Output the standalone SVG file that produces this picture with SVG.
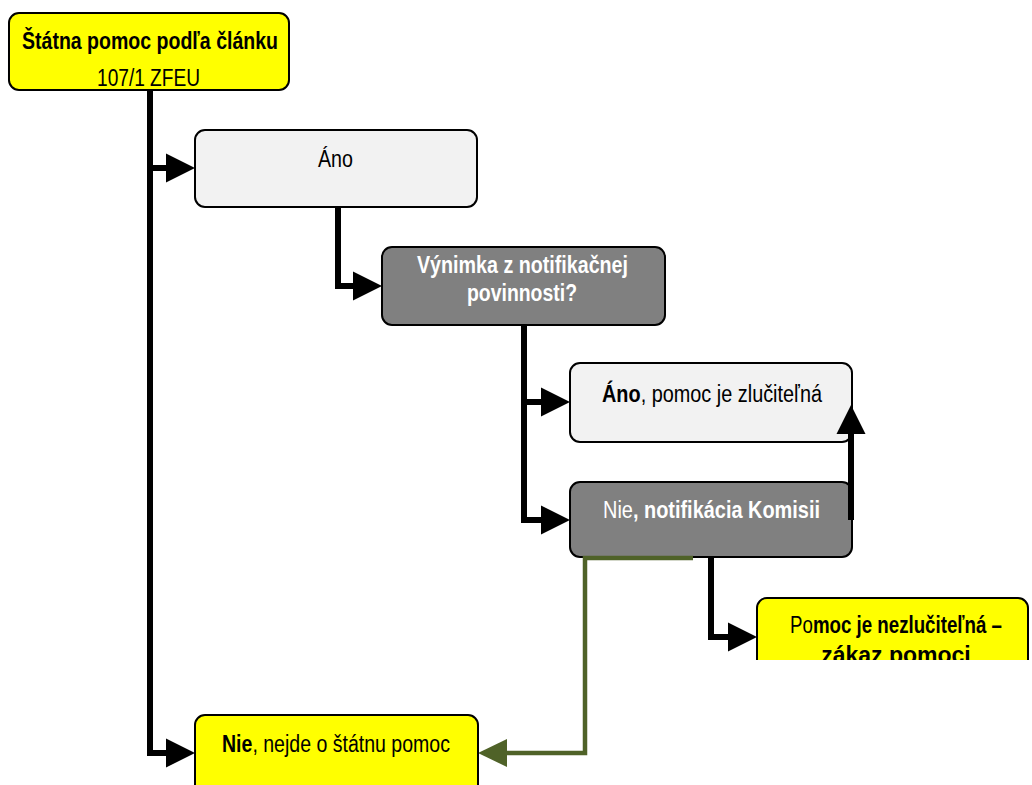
<svg xmlns="http://www.w3.org/2000/svg" width="1032" height="785" viewBox="0 0 1032 785">
  <style>
    text { font-family: "Liberation Sans", Arial, sans-serif; font-size: 23px; fill: #000; }
    .b { font-weight: bold; }
    .w { fill: #fff; }
    .box { stroke: #000; stroke-width: 2; }
    .yellow { fill: #ffff00; }
    .light { fill: #f2f2f2; }
    .grey { fill: #808080; }
    .conn { fill: none; stroke: #000; stroke-width: 6; }
    .green { fill: none; stroke: #4f6228; stroke-width: 4.5; }
  </style>
  <defs>
    <marker id="arrow" markerUnits="userSpaceOnUse" markerWidth="30" markerHeight="30" refX="0" refY="15" orient="auto" overflow="visible">
      <path d="M0,0.5 L29,15 L0,29.5 Z" fill="#000"/>
    </marker>
    <marker id="arrowGreen" markerUnits="userSpaceOnUse" markerWidth="30" markerHeight="30" refX="0" refY="14" orient="auto" overflow="visible">
      <path d="M0,0 L29,14 L0,28 Z" fill="#4f6228"/>
    </marker>
    <clipPath id="clipLow">
      <rect x="740" y="590" width="300" height="70"/>
    </clipPath>
  </defs>

  <rect width="1032" height="785" fill="#fff"/>

  <!-- connectors -->
  <g id="connectors">
    <path class="conn" d="M150,90 V753 H166" marker-end="url(#arrow)"/>
    <path class="conn" d="M150,168 H166" marker-end="url(#arrow)"/>
    <path class="conn" d="M338,207 V286 H353" marker-end="url(#arrow)"/>
    <path class="conn" d="M524,325 V520 H541" marker-end="url(#arrow)"/>
    <path class="conn" d="M524,402 H541" marker-end="url(#arrow)"/>
    <path class="conn" d="M711,557 V637 H728" marker-end="url(#arrow)"/>
  </g>

  <!-- start -->
  <g id="node-start">
    <rect class="box yellow" x="9" y="13" width="280" height="77" rx="10"/>
    <text class="b" x="22" y="49" textLength="256" lengthAdjust="spacingAndGlyphs">Štátna pomoc podľa článku</text>
    <text x="97" y="86" textLength="103" lengthAdjust="spacingAndGlyphs">107/1 ZFEU</text>
  </g>

  <!-- yes -->
  <g id="node-ano">
    <rect class="box light" x="195" y="130" width="282" height="77" rx="10"/>
    <text x="318" y="167" textLength="35" lengthAdjust="spacingAndGlyphs">Áno</text>
  </g>

  <!-- exemption question -->
  <g id="node-vynimka">
    <rect class="box grey" x="382" y="247" width="283" height="78" rx="10"/>
    <text class="b w" x="417" y="273" textLength="211" lengthAdjust="spacingAndGlyphs">Výnimka z notifikačnej</text>
    <text class="b w" x="467" y="301" textLength="110" lengthAdjust="spacingAndGlyphs">povinnosti?</text>
  </g>

  <!-- compatible -->
  <g id="node-zlucitelna">
    <rect class="box light" x="570" y="363" width="282" height="79" rx="10"/>
    <text x="602" y="402" textLength="220" lengthAdjust="spacingAndGlyphs"><tspan class="b">Áno</tspan>, pomoc je zlučiteľná</text>
  </g>

  <!-- notification -->
  <g id="node-notifikacia">
    <rect class="box grey" x="570" y="482" width="282" height="75" rx="10"/>
    <text class="w" x="603" y="518" textLength="217" lengthAdjust="spacingAndGlyphs">Nie<tspan class="b w">, notifikácia Komisii</tspan></text>
  </g>

  <!-- return arrows -->
  <g id="connectors-return">
    <path class="conn" d="M851,520 V434" marker-end="url(#arrow)"/>
    <path class="green" d="M693,558 H585 V753 H507" marker-end="url(#arrowGreen)"/>
  </g>

  <!-- incompatible -->
  <g id="node-nezlucitelna" clip-path="url(#clipLow)">
    <rect class="box yellow" x="757" y="598" width="271" height="100" rx="10"/>
    <text x="790" y="633" textLength="212" lengthAdjust="spacingAndGlyphs">Po<tspan class="b">moc je nezlučiteľná –</tspan></text>
    <text class="b" x="896" y="663" text-anchor="middle">zákaz pomoci</text>
  </g>

  <!-- not state aid -->
  <g id="node-nie">
    <rect class="box yellow" x="195" y="715" width="283" height="100" rx="10"/>
    <text x="222" y="752" textLength="228" lengthAdjust="spacingAndGlyphs"><tspan class="b">Nie</tspan>, nejde o štátnu pomoc</text>
  </g>
</svg>
